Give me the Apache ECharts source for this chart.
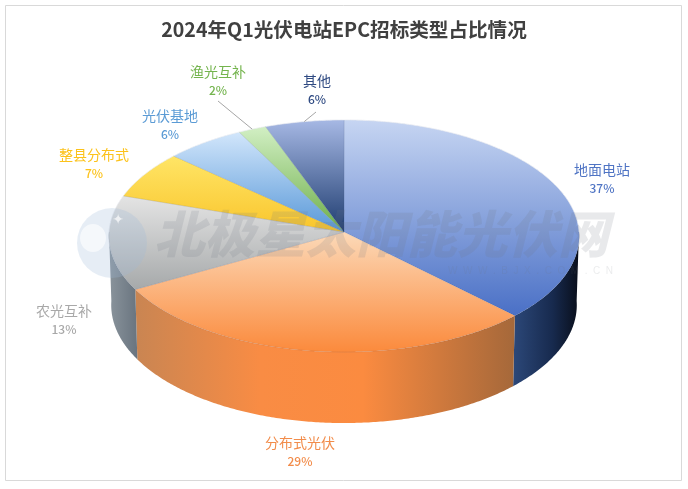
<!DOCTYPE html>
<html>
<head>
<meta charset="utf-8">
<style>html,body{margin:0;padding:0;background:#fff}#c{width:688px;height:489px;filter:blur(0.35px)}</style>
<script src="https://cdn.jsdelivr.net/npm/echarts@6/dist/echarts.min.js"></script>
</head>
<body>
<div id="c"></div>
<script>
// ---- data ----
var chartTitle = '2024年Q1光伏电站EPC招标类型占比情况';
var categories = ['地面电站', '分布式光伏', '农光互补', '整县分布式', '光伏基地', '渔光互补', '其他'];
var shares = [37.45, 29.45, 13.2, 6.6, 5.7, 2.0, 5.6];

// ---- styling, kept apart from the data ----
var labelColors = ['#4f74c4', '#f28c4a', '#a8a8a8', '#fcc21a', '#5b9bd5', '#74b44e', '#2f4a82'];
var topStops = [
  ['#c6d5f2', '#4a70c6'], ['#fcd9b8', '#fb8a3c'], ['#e4e4e4', '#a6a9aa'], ['#ffe566', '#f9c52c'],
  ['#d2e6fb', '#5898d8'], ['#d2efc4', '#6cae48'], ['#a6b8e4', '#1e3c70']
];
// wall gradients run left to right
var wallStops = [
  [[0, '#2c4879'], [0.6, '#172a4e'], [1, '#090e1a']],
  [[0, '#c98552'], [0.33, '#f98c44'], [0.6, '#fb8b40'], [1, '#a5683a']],
  [[0, '#8a949c'], [1, '#69747f']],
  null, null, null, null
];
var labelAnchors = [[602, 170], [300, 443], [64, 311], [94, 155], [170, 116], [218, 72], [317, 81]];
var leaderFrom = { 5: [218, 101], 6: [316, 112] };
var PIE = { cx: 344, cy: 232, r: 235, a: 115.9, k: 0.0345 };

function project(theta, drop) {
  var u = Math.sin(theta), v = -Math.cos(theta), s = 1 / (1 - PIE.k * v);
  var d = drop ? 69 + 2 * v : 0, w = drop ? 0.99 : 1;
  return [PIE.cx + PIE.r * u * s * w, PIE.cy + PIE.a * v * s + d];
}
function arc(a0, a1, drop) {
  var pts = [], n = Math.max(2, Math.ceil((a1 - a0) / 0.01));
  for (var i = 0; i <= n; i++) pts.push(project(a0 + (a1 - a0) * i / n, drop));
  return pts;
}
var total = shares.reduce(function (s, x) { return s + x; }, 0);
var PI2 = Math.PI * 2;

function renderItem(params, api) {
  var idx = params.dataIndex, before = 0;
  for (var i = 0; i < idx; i++) before += shares[i];
  var a0 = before / total * PI2, a1 = (before + api.value(0)) / total * PI2;
  var children = [];
  var rim = arc(a0, a1, false);
  var LG = echarts.graphic.LinearGradient;

  // visible side wall
  var w0 = Math.max(a0, PI2 * 0.25), w1 = Math.min(a1, PI2 * 0.75);
  if (w1 > w0 && wallStops[idx]) {
    var top = arc(w0, w1, false), bot = arc(w0, w1, true).reverse();
    var xs = top.concat(bot).map(function (p) { return p[0]; });
    var x0 = Math.min.apply(null, xs), x1 = Math.max.apply(null, xs);
    children.push({
      type: 'polygon', shape: { points: top.concat(bot) },
      style: { fill: new LG(x0, 0, x1, 0, wallStops[idx].map(function (s) { return { offset: s[0], color: s[1] }; }), true) }
    });
  }
  // top face
  var pts = [[PIE.cx, PIE.cy]].concat(rim);
  var ys = pts.map(function (p) { return p[1]; });
  children.push({
    type: 'polygon', shape: { points: pts },
    style: {
      fill: new LG(0, Math.min.apply(null, ys), 0, Math.max.apply(null, ys),
        [{ offset: 0, color: topStops[idx][0] }, { offset: 1, color: topStops[idx][1] }], true),
      stroke: 'rgba(40,60,100,0.18)', lineWidth: 0.6
    }
  });
  // pale highlight along the back of the rim
  var b0 = a0, b1 = Math.min(a1, PI2 * 0.25);
  if (a0 >= PI2 * 0.75) { b0 = a0; b1 = a1; }
  else if (a1 > PI2 * 0.75) { b0 = PI2 * 0.75; b1 = a1; }
  if (b1 > b0) {
    children.push({
      type: 'polyline', shape: { points: arc(b0, b1, false) },
      style: { stroke: 'rgba(255,255,255,0.55)', lineWidth: 1, fill: 'none' }
    });
  }
  // leader line to the middle of the rim
  if (leaderFrom[idx]) {
    var mid = project((a0 + a1) / 2, false);
    children.push({
      type: 'line', shape: { x1: leaderFrom[idx][0], y1: leaderFrom[idx][1], x2: mid[0], y2: mid[1] },
      style: { stroke: '#a6a6a6', lineWidth: 1 }
    });
  }
  // label
  var at = labelAnchors[idx];
  children.push({
    type: 'text',
    style: { text: categories[idx], x: at[0], y: at[1], align: 'center', verticalAlign: 'middle',
      fill: labelColors[idx], font: '14px "Noto Sans CJK SC"' }
  });
  children.push({
    type: 'text',
    style: { text: Math.round(api.value(0)) + '%', x: at[0], y: at[1] + 18, align: 'center', verticalAlign: 'middle',
      fill: labelColors[idx], font: '500 12px "Noto Sans CJK SC"' }
  });
  return { type: 'group', children: children };
}

var chart = echarts.init(document.getElementById('c'), null, { renderer: 'canvas' });
chart.setOption({
  animation: false,
  backgroundColor: '#ffffff',
  title: {
    text: chartTitle, left: 'center', top: 15,
    textStyle: { fontFamily: 'Noto Sans CJK SC', fontSize: 19.6, fontWeight: 'bold', color: '#404040' }
  },
  graphic: { elements: [
    { type: 'rect', shape: { x: 5.5, y: 5.5, width: 676, height: 475 }, style: { fill: 'none', stroke: '#d9d9d9', lineWidth: 1 }, z: 1 },
    { type: 'circle', shape: { cx: 112, cy: 243, r: 35 }, style: { fill: 'rgba(160,185,215,0.26)' }, z: 100 },
    { type: 'ellipse', shape: { cx: 93, cy: 238, rx: 13, ry: 14 }, style: { fill: 'rgba(255,255,255,0.6)' }, z: 101 },
    { type: 'text', style: { text: '✦', x: 118, y: 220, align: 'center', verticalAlign: 'middle',
        font: '14px "DejaVu Sans"', fill: 'rgba(255,255,255,0.7)' }, z: 101 },
    { type: 'text', style: { text: '北极星太阳能光伏网', x: 154, y: 234, verticalAlign: 'middle',
        font: 'italic 900 50.5px "Noto Sans CJK SC"', fill: 'rgba(110,118,130,0.16)' }, z: 100 },
    { type: 'text', style: { text: 'W  W  W  .  B  J  X  .  C  O  M  .  C  N', x: 613, y: 271, align: 'right', verticalAlign: 'middle',
        font: '500 10px "Liberation Sans"', fill: 'rgba(110,118,130,0.14)' }, z: 100 }
  ] },
  series: [{
    type: 'custom',
    coordinateSystem: 'none',
    renderItem: renderItem,
    encode: { value: 0, itemName: 1 },
    data: categories.map(function (n, i) { return [shares[i], n]; })
  }]
});
</script>
</body>
</html>
